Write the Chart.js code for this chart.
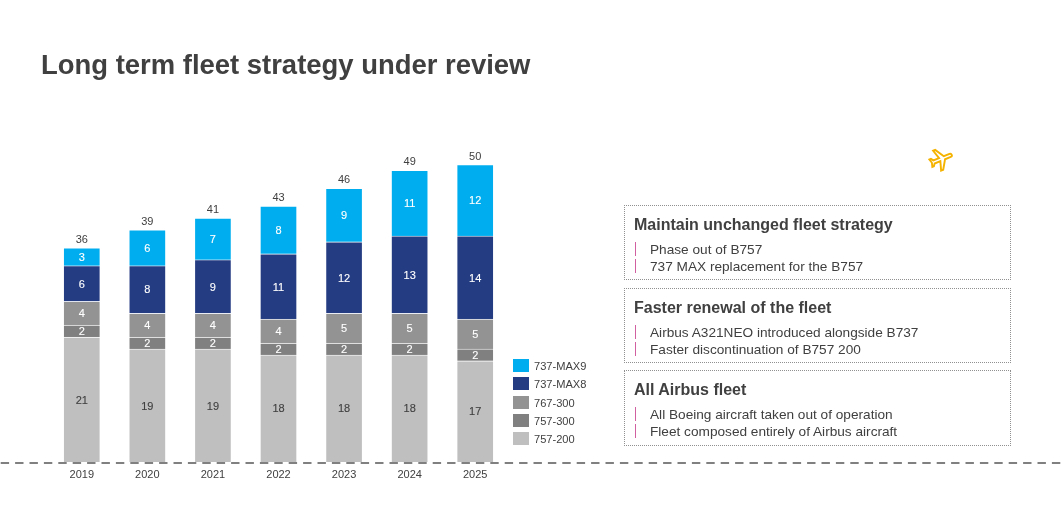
<!DOCTYPE html>
<html>
<head>
<meta charset="utf-8">
<script src="https://cdn.jsdelivr.net/npm/chart.js@4"></script>
<style>
body{margin:0;background:#fff;font-family:"Liberation Sans",Arial,sans-serif;color:#404040;}
#page{position:relative;width:1062px;height:531px;overflow:hidden;}
#myChart{position:absolute;left:0;top:0;}
h1{position:absolute;left:41px;top:48px;margin:0;font-size:27.45px;line-height:34px;font-weight:bold;white-space:nowrap;}
.box{position:absolute;left:624px;width:385px;border:1px dotted #909090;box-sizing:content-box;}
.box h2{position:absolute;left:9px;top:9px;margin:0;font-size:16px;line-height:20px;font-weight:bold;white-space:nowrap;}
.box p{position:absolute;left:25px;margin:0;font-size:13.65px;line-height:17px;white-space:nowrap;}
.box i{position:absolute;left:10px;width:1px;height:14px;background:#d0609f;}
.leg{position:absolute;left:513px;width:16px;height:13px;}
.legtxt{position:absolute;left:534px;font-size:11.1px;line-height:14px;white-space:nowrap;}
#plane{position:absolute;left:928px;top:146px;}
</style>
</head>
<body>
<div id="page">
    <canvas id="myChart" width="1062" height="531"></canvas>
    <h1>Long term fleet strategy under review</h1>
    <svg id="plane" width="27" height="27" viewBox="0 0 24 24">
        <path transform="rotate(68 12 12)" fill="none" stroke="#f5b301" stroke-width="1.7" d="M21 16v-2l-8-5V3.5c0-.83-.67-1.5-1.5-1.5S10 2.67 10 3.5V9l-8 5v2l8-2.5V19l-2 1.5V22l3.5-1 3.5 1v-1.5L13 19v-5.5l8 2.5z"/>
    </svg>
    <div id="legend"></div>
    <div id="boxes"></div>
</div>
<script>
//chart values
const years = ['2019','2020','2021','2022','2023','2024','2025'];
const b757_200 = [21,19,19,18,18,18,17];
const b757_300 = [2,2,2,2,2,2,2];
const b767_300 = [4,4,4,4,5,5,5];
const max8 = [6,8,9,11,12,13,14];
const max9 = [3,6,7,8,9,11,12];
const totals = [36,39,41,43,46,49,50];

//colors
const lightGrey = '#bfbfbf';
const darkGrey = '#808080';
const midGrey = '#939393';
const navy = '#243c82';
const cyan = '#00aeef';
const textColor = '#404040';

const fontName = '"Liberation Sans", Arial, sans-serif';

function series(label, values, color, labelColor){
    return {
        label: label,
        data: values,
        backgroundColor: color,
        borderColor: 'rgba(255,255,255,0.25)',
        borderWidth: 1,
        barThickness: 37,
        labelColor: labelColor
    };
}

const data = {
    labels: years,
    datasets: [
        series('757-200', b757_200, lightGrey, textColor),
        series('757-300', b757_300, darkGrey, '#fff'),
        series('767-300', b767_300, midGrey, '#fff'),
        series('737-MAX8', max8, navy, '#fff'),
        series('737-MAX9', max9, cyan, '#fff')
    ]
};

//values inside the segments and totals on top
const valueLabels = {
    id: 'valueLabels',
    afterDatasetsDraw(chart){
        const ctx = chart.ctx;
        ctx.save();
        ctx.font = '11px ' + fontName;
        ctx.textAlign = 'center';
        ctx.textBaseline = 'middle';
        ctx.lineWidth = 0.12;
        chart.data.datasets.forEach((ds, i) => {
            chart.getDatasetMeta(i).data.forEach((bar, j) => {
                ctx.fillStyle = ds.labelColor;
                ctx.strokeStyle = ds.labelColor;
                ctx.fillText(ds.data[j], bar.x, (bar.y + bar.base) / 2 + 1);
                ctx.strokeText(ds.data[j], bar.x, (bar.y + bar.base) / 2 + 1);
            });
        });
        ctx.fillStyle = textColor;
        const topBars = chart.getDatasetMeta(chart.data.datasets.length - 1).data;
        topBars.forEach((bar, j) => {
            ctx.fillText(totals[j], bar.x, chart.scales.y.getPixelForValue(totals[j]) - 8);
        });
        ctx.restore();
    }
};

//dashed base line across the whole page
const baseLine = {
    id: 'baseLine',
    afterDraw(chart){
        const ctx = chart.ctx;
        const y = chart.scales.y.getPixelForValue(0) + 1;
        ctx.save();
        ctx.strokeStyle = darkGrey;
        ctx.lineWidth = 2;
        ctx.setLineDash([8.4, 6]);
        ctx.lineDashOffset = -0.7;
        ctx.beginPath();
        ctx.moveTo(0, y);
        ctx.lineTo(chart.width, y);
        ctx.stroke();
        ctx.restore();
    }
};

const config = {
    type: 'bar',
    data: data,
    plugins: [valueLabels, baseLine],
    options: {
        responsive: false,
        animation: false,
        layout: {
            padding: {left: 49, right: 554, top: 105, bottom: 39}
        },
        plugins: {
            legend: {display: false},
            tooltip: {enabled: false}
        },
        scales: {
            x: {
                stacked: true,
                grid: {display: false, tickLength: 0},
                border: {display: false},
                afterFit: function(scale){ scale.height = 30; },
                ticks: {
                    color: textColor,
                    font: {family: fontName, size: 11},
                    padding: 6,
                    maxRotation: 0
                }
            },
            y: {
                stacked: true,
                display: false,
                min: 0,
                max: 60
            }
        }
    }
};

const ctx = document.getElementById('myChart').getContext('2d');
const myChart = new Chart(ctx, config);

//legend, top entry is the last series
const legendTop = [359, 377, 396, 414, 432];
const legendEl = document.getElementById('legend');
data.datasets.slice().reverse().forEach((ds, i) => {
    legendEl.innerHTML += '<div class="leg" style="top:' + legendTop[i] + 'px;background:' + ds.backgroundColor + '"></div>'
        + '<div class="legtxt" style="top:' + legendTop[i] + 'px">' + ds.label + '</div>';
});

//text boxes on the right
const boxes = [
    {top: 205, height: 73, title: 'Maintain unchanged fleet strategy', lines: ['Phase out of B757', '737 MAX replacement for the B757']},
    {top: 288, height: 73, title: 'Faster renewal of the fleet', lines: ['Airbus A321NEO introduced alongside B737', 'Faster discontinuation of B757 200']},
    {top: 370, height: 74, title: 'All Airbus fleet', lines: ['All Boeing aircraft taken out of operation', 'Fleet composed entirely of Airbus aircraft']}
];
const boxesEl = document.getElementById('boxes');
boxes.forEach(b => {
    let html = '<div class="box" style="top:' + b.top + 'px;height:' + b.height + 'px"><h2>' + b.title + '</h2>';
    b.lines.forEach((line, i) => {
        const y = 35 + i * 17;
        html += '<i style="top:' + (y + 1) + 'px"></i><p style="top:' + y + 'px">' + line + '</p>';
    });
    boxesEl.innerHTML += html + '</div>';
});
</script>
</body>
</html>
